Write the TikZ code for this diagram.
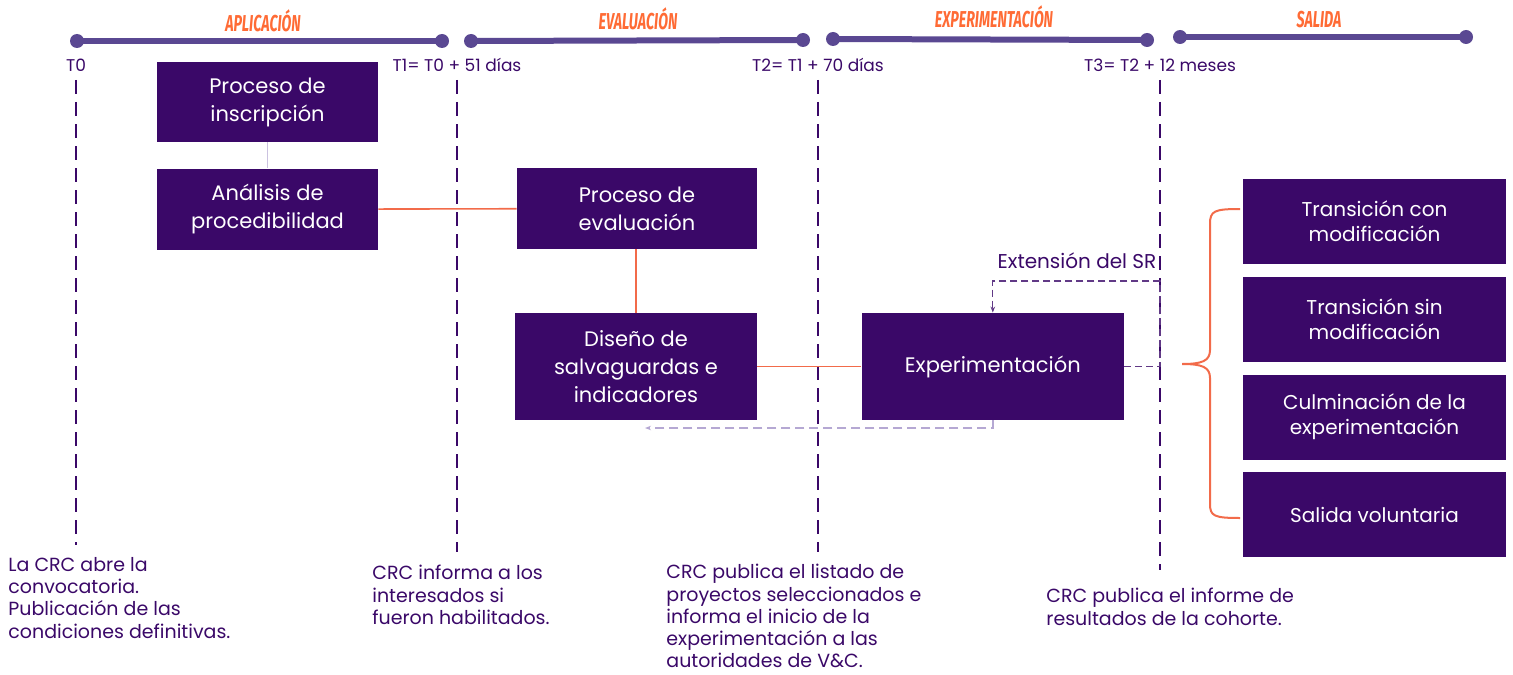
\documentclass[tikz,border=0pt]{standalone}
\usepackage{fontspec,graphicx}
\setmainfont{Poppins}
\newfontfamily\headfont{Fira Sans}
\usetikzlibrary{arrows.meta,positioning}
\definecolor{crcbox}{HTML}{3A0868}
\definecolor{crcline}{HTML}{5A4892}
\definecolor{crcorange}{HTML}{F26B4A}
\definecolor{crchead}{HTML}{FF6B35}
\definecolor{crclav}{HTML}{B5A8D3}
\newcommand{\phase}[1]{\scalebox{0.62}[1]{\headfont\bfseries\itshape #1}}

\begin{document}
\begin{tikzpicture}[x=0.5pt,y=-0.5pt, node distance=6pt,
  box/.style={fill=crcbox,text=white,align=center,font=\fontsize{10.5}{14}\selectfont,inner sep=2pt},
  rbox/.style={box,minimum width=131.5pt,minimum height=42.5pt,font=\fontsize{10}{12.5}\selectfont},
  head/.style={text=crchead,font=\fontsize{11.5}{12}\selectfont,inner sep=0pt},
  tlabel/.style={text=crcbox,font=\fontsize{8.5}{10}\selectfont,inner sep=0pt},
  note/.style={text=crcbox,align=left,anchor=north west,font=\fontsize{9.5}{11.1}\selectfont,inner sep=0pt},
  milestone/.style={crcbox,line width=0.75pt,dash pattern=on 7pt off 4pt},
  link/.style={crcorange,line width=0.8pt},
  >={Stealth[length=3pt]}]
\useasboundingbox (0,0) rectangle (1513,674);

% timeline
\foreach \a/\b/\ya/\yb in {77/442/41/41,471/803/41/40,833/1147/39/40,1180/1466/37/37}{
  \draw[crcline,line width=3pt] (\a,\ya) -- (\b,\yb);
  \fill[crcline] (\a,\ya) circle (7) (\b,\yb) circle (7);
}
\node[head] (hap) at (263,21) {\phase{APLICACIÓN}};
\node[head] (hev) at (638,19) {\phase{EVALUACIÓN}};
\node[head] (hex) at (994,17) {\phase{EXPERIMENTACIÓN}};
\node[head] (hsa) at (1319,20) {\phase{SALIDA}};

\node[tlabel] (t0) at (76,65) {T0};
\node[tlabel] (t1) at (457,65) {T1= T0 + 51 días};
\node[tlabel] (t2) at (818,65) {T2= T1 + 70 días};
\node[tlabel] (t3) at (1160,65) {T3= T2 + 12 meses};

% milestones
\draw[milestone] (76,80) -- (76,545);
\draw[milestone] (457,80) -- (457,552);
\draw[milestone] (818,80) -- (818,552);
\draw[milestone] (1160,80) -- (1160,570);

% boxes
\node[box,minimum width=110.5pt,minimum height=40pt] (ins) at (267.5,102) {Proceso de\\inscripción};
\node[box,minimum width=110.5pt,minimum height=40.5pt,below=13pt of ins] (ana) {Análisis de\\procedibilidad};
\node[box,minimum width=120pt,minimum height=40.5pt] (eva) at (637,208.5) {Proceso de\\evaluación};
\node[box,minimum width=121pt,minimum height=53.5pt] (dis) at (636,366.5) {Diseño de\\salvaguardas e\\indicadores};
\node[box,minimum width=131pt,minimum height=53.5pt,right=52pt of dis] (exp) {Experimentación};

\node[rbox] (r1) at (1374.5,221.5) {Transición con\\modificación};
\node[rbox,below=of r1] (r2) {Transición sin\\modificación};
\node[rbox,below=of r2] (r3) {Culminación de la\\experimentación};
\node[rbox,below=of r3] (r4) {Salida voluntaria};

% connectors
\draw[crclav!70,line width=0.6pt] (ins) -- (ana);
\draw[link] (ana) -- (eva);
\draw[link] (eva.south-|dis.north) -- (dis);
\draw[link] (dis) -- (exp);
\coordinate (ret) at (645,428);
\draw[crclav,line width=0.7pt,dash pattern=on 4.5pt off 2.5pt,->] (exp.south) |- (ret);
\coordinate (ext) at (1160,281);
\draw[crcbox!80,line width=0.6pt,dash pattern=on 3.5pt off 2pt,->] (exp.east) -| (ext) -| (exp.north);
\node[tlabel,font=\fontsize{10}{11}\selectfont] (lext) at (1077,261) {Extensión del SR};

% brace
\draw[link,line width=1pt] (1240,209) .. controls (1214,209) and (1210,211) .. (1210,224) -- (1210,350)
  .. controls (1210,361) and (1202,364) .. (1182,364) .. controls (1202,364) and (1210,367) .. (1210,378)
  -- (1210,504) .. controls (1210,516) and (1214,518) .. (1240,518);

% notes
\node[note] (n0) at (8,557) {La CRC abre la\\convocatoria.\\Publicación de las\\condiciones definitivas.};
\node[note] (n1) at (372,565) {CRC informa a los\\interesados si\\fueron habilitados.};
\node[note] (n2) at (666,564) {CRC publica el listado de\\proyectos seleccionados e\\informa el inicio de la\\experimentación a las\\autoridades de V\&C.};
\node[note] (n3) at (1046,588) {CRC publica el informe de\\resultados de la cohorte.};
\end{tikzpicture}
\end{document}
